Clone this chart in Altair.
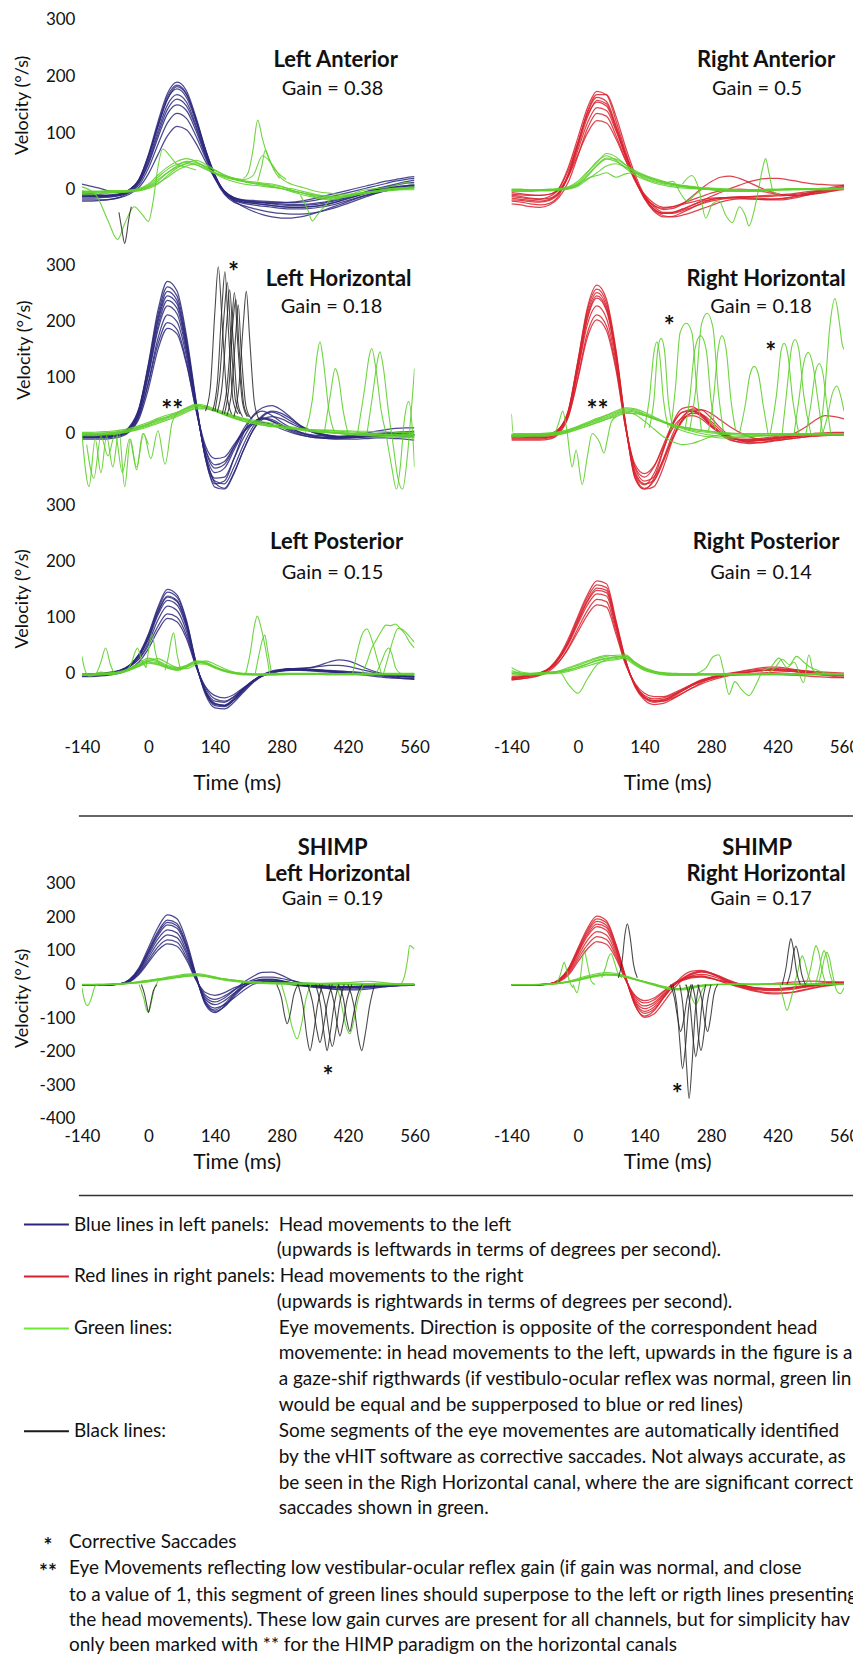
import altair as alt
import pandas as pd

# ---------------- time grid (ms) ----------------
T = [-140, -120, -100, -80, -60, -40, -20, 0, 20, 40, 60, 80, 100, 120, 140, 160, 180, 200,
     220, 240, 260, 280, 300, 320, 340, 360, 380, 400, 420, 440, 460, 480, 500, 520, 540, 560]
XTICKS = [-140, 0, 140, 280, 420, 560]

# ---------------- Left Anterior ----------------
LA_HEAD = [
    [-15,-15,-14,-13,-10,-2, 18,62,120,170,190,175, 128,72,26,-4,-17,-22, -24,-26,-28,-30,-31,-31, -30,-28,-25,-21,-16,-11, -6,-2,2,5,7,8],
    [-8,-9,-10,-10,-8,-1, 16,58,112,160,178,163, 120,68,24,-6,-19,-24, -27,-29,-31,-33,-34,-34, -33,-31,-28,-24,-19,-14, -9,-4,0,3,5,6],
    [10,6,2,-3,-5,0, 15,52,104,150,168,155, 114,64,20,-8,-22,-28, -33,-37,-40,-42,-43,-43, -42,-39,-35,-30,-24,-18, -12,-6,-1,3,6,8],
    [-20,-20,-19,-17,-13,-5, 12,48,98,142,160,148, 110,62,22,-4,-16,-20, -22,-23,-24,-25,-26,-26, -25,-23,-20,-16,-12,-8, -4,0,4,8,11,13],
    [-12,-12,-12,-11,-9,-3, 12,45,92,134,150,140, 104,60,22,-3,-14,-18, -19,-20,-21,-22,-23,-22, -20,-17,-13,-9,-5,-1, 3,7,11,15,18,20],
    [-5,-7,-9,-11,-10,-5, 8,38,80,118,135,126, 95,56,20,-5,-20,-30, -38,-44,-48,-50,-50,-48, -44,-39,-33,-27,-21,-15, -10,-6,-2,1,3,4],
    [-18,-18,-18,-17,-14,-8, 4,28,62,95,112,106, 82,50,20,-2,-14,-19, -21,-22,-23,-23,-22,-20, -17,-13,-9,-5,-1,3, 7,11,15,18,21,23],
    [-12,-12,-12,-11,-8,0, 18,60,115,165,185,170, 125,70,25,-5,-18,-22, -24,-26,-28,-30,-31,-31, -30,-28,-25,-20,-15,-10, -5,0,3,5,7,8],
    [-10,-10,-10,-9,-7,0, 17,58,112,160,182,168, 124,70,26,-3,-15,-19, -21,-23,-25,-27,-28,-28, -27,-25,-22,-18,-13,-8, -3,2,6,10,14,17],
]
LA_EYE = [
    [-5,-5,-4,-4,-3,-2, 0,5,15,30,42,50, 48,40,30,22,18,15, 12,10,8,5,2,-2, -6,-10,-12,-12,-10,-8, -6,-4,-2,0,1,2],
    [-8,-8,-7,-6,-5,-4, -2,2,10,25,38,46, 52,45,35,26,20,16, 14,12,10,6,0,-5, -9,-12,-14,-14,-12,-9, -6,-4,-2,-1,0,0],
    [-2,-3,-3,-2,-2,-1, 1,8,22,36,45,48, 44,36,28,20,14,10, 8,6,4,2,-1,-5, -8,-10,-11,-11,-10,-8, -5,-2,1,3,4,5],
    [-6,-6,-5,-5,-4,-3, -1,4,12,22,34,42, 46,42,34,26,20,15, 11,8,5,2,-2,-5, -10,-14,-16,-15,-12,-8, -4,-2,0,1,2,3],
    [-4,-4,-3,-3,-3,-2, 0,6,18,30,40,46, 44,38,30,24,20,18, 25,60,45,20,10,5, 0,-4,-6,-8,-8,-6, -4,-2,0,2,3,4],
    [-3,-3,-3,-2,-2,-1, 2,10,26,40,50,55, 50,40,30,24,18,14, 12,10,6,2,-3,-8, -12,-16,-18,-16,-10,-4, 0,2,4,8,12,10],
]
LA_EYE_SEG = [
    ([200,210,220,230,240,250,262,275,290], [20,30,70,123,90,62,40,28,18]),
    ([230,238,246,254,264,276], [15,40,70,55,35,20]),
    ([-140,-110,-85,-65,-50,-30,-12,0,10,20,30,45,60,80,100], [5,-10,-55,-88,-60,-30,-45,-56,-20,40,72,60,45,40,35]),
    ([320,335,345,355,370,385], [-10,-35,-55,-45,-30,-15]),
]
LA_BLACK_SEG = [
    ([-62,-56,-50,-46,-42,-36], [-40,-70,-95,-80,-55,-30]),
]

# ---------------- Right Anterior ----------------
RA_HEAD = [
    [-10,-12,-15,-16,-12,2, 40,92,145,174,168,122, 68,22,-14,-34,-42,-40, -34,-27,-21,-17,-15,-14, -13,-12,-11,-10,-9,-8, -6,-4,-2,0,2,3],
    [-20,-22,-25,-27,-24,-10, 28,82,136,163,156,114, 64,20,-16,-38,-48,-47, -40,-32,-24,-18,-15,-13, -12,-12,-12,-12,-11,-10, -8,-6,-4,-2,0,1],
    [-5,-7,-9,-10,-8,3, 35,84,132,155,148,108, 60,18,-12,-28,-33,-30, -24,-18,-12,-6,-2,0, 1,0,-2,-5,-8,-10, -10,-9,-7,-4,-1,2],
    [-15,-17,-19,-20,-17,-6, 24,70,118,145,140,104, 60,20,-14,-36,-46,-48, -45,-40,-34,-28,-22,-18, -16,-16,-17,-18,-18,-17, -14,-10,-6,-2,2,5],
    [-25,-27,-30,-31,-27,-14, 14,60,108,135,130,96, 54,16,-12,-28,-35,-33, -25,-12,2,14,22,24, 20,13,5,-2,-7,-10, -10,-9,-7,-5,-2,0],
    [-8,-9,-10,-10,-8,0, 24,62,100,122,118,90, 52,18,-8,-24,-31,-30, -26,-22,-18,-15,-14,-14, -15,-16,-17,-17,-16,-14, -11,-7,-3,1,5,8],
    [-12,-14,-16,-17,-15,-4, 28,80,138,168,168,130, 76,28,-10,-30,-40,-40, -35,-28,-20,-12,-5,2, 8,14,18,20,20,18, 15,12,10,9,8,8],
    [-18,-19,-21,-22,-19,-6, 26,76,128,158,152,110, 62,20,-14,-34,-42,-42, -37,-31,-25,-20,-17,-15, -14,-14,-15,-16,-16,-15, -12,-8,-4,0,3,6],
]
RA_EYE = [
    [0,0,-1,-1,0,1, 4,12,30,50,60,52, 38,26,18,12,8,5, 3,2,1,0,-1,-2, -2,-2,-1,0,0,1, 1,1,0,0,1,2],
    [-2,-2,-2,-1,-1,0, 2,8,24,42,54,50, 40,30,22,16,12,9, 6,4,2,0,-2,-3, -3,-3,-2,-1,0,0, 1,1,1,2,2,3],
    [1,1,0,0,1,2, 5,15,32,48,64,58, 44,30,20,14,10,7, 5,3,2,1,0,0, -1,-1,-1,0,0,0, 1,1,1,1,2,2],
    [-3,-3,-3,-2,-2,-1, 1,6,18,30,42,46, 40,32,24,18,13,9, 6,4,2,1,0,-1, -2,-3,-3,-2,-1,0, 0,1,1,1,2,2],
    [0,0,0,0,0,1, 3,9,20,25,30,22, 28,30,25,18,14,10, 7,5,3,2,1,0, 0,0,0,0,0,0, 0,0,0,0,1,1],
    [-1,-1,-1,0,0,1, 3,10,26,44,56,54, 44,34,26,20,15,11, 8,6,4,3,2,1, 0,0,0,1,1,2, 2,2,2,3,3,3],
]
RA_EYE_SEG = [
    ([220,240,255,269,283,297,311,325,340,352,360,370,380,388,395,402,412,425],
     [10,25,0,-50,-25,-20,-45,-58,-30,-45,-64,-40,0,35,55,30,-5,-8]),
    ([180,200,215,230,245,260], [10,15,-5,-20,-10,0]),
]

# ---------------- Left Horizontal ----------------
LH_HEAD = [
    [-6,-6,-6,-5,-2,10, 45,125,220,272,255,175, 60,-45,-90,-85,-45,0, 30,40,32,20,10,2, -3,-6,-7,-7,-6,-4, -2,0,1,1,1,1],
    [-2,-2,-2,-1,1,12, 44,118,205,254,238,162, 55,-40,-80,-78,-45,-8, 18,28,25,16,8,2, -2,-4,-5,-5,-4,-3, -2,-1,0,0,-1,-2],
    [-8,-8,-8,-7,-4,6, 36,106,192,238,224,152, 50,-40,-88,-98,-70,-30, 5,25,30,26,18,10, 4,0,-3,-5,-6,-6, -5,-4,-3,-2,-2,-3],
    [-4,-4,-4,-3,-1,8, 38,104,185,228,214,146, 48,-36,-70,-62,-30,2, 20,28,22,12,4,-2, -6,-8,-8,-7,-5,-2, 1,4,7,9,10,10],
    [-10,-10,-10,-9,-6,3, 30,92,170,212,200,138, 46,-30,-62,-55,-25,8, 32,46,50,42,28,14, 4,-2,-6,-8,-8,-7, -6,-5,-4,-4,-5,-6],
    [-3,-3,-3,-3,-1,6, 32,90,160,198,186,128, 42,-28,-56,-50,-24,2, 16,20,16,8,2,-3, -6,-8,-9,-9,-8,-6, -4,-2,0,2,3,4],
    [-6,-6,-6,-5,-3,4, 26,80,150,188,178,124, 44,-22,-45,-42,-20,4, 20,26,22,14,6,0, -4,-7,-9,-10,-10,-10, -9,-8,-8,-9,-10,-12],
    [-5,-5,-5,-4,-2,9, 42,122,212,262,246,168, 56,-44,-96,-100,-72,-30, 6,30,38,32,22,12, 4,-1,-4,-6,-6,-5, -4,-3,-2,-2,-2,-2],
    [-7,-7,-7,-6,-3,7, 38,112,200,246,232,158, 52,-42,-85,-90,-60,-20, 12,32,40,36,26,14, 6,0,-4,-6,-7,-7, -6,-5,-4,-3,-3,-3],
]
LH_EYE = [
    [-2,-2,-1,0,2,5, 10,16,22,28,34,42, 48,46,40,34,28,24, 20,17,14,12,10,8, 6,4,3,2,1,0, 0,-1,-2,-2,-3,-3],
    [0,0,1,2,4,7, 12,18,25,30,36,44, 50,48,42,36,30,25, 21,18,15,12,9,7, 5,3,2,1,0,-1, -2,-2,-3,-3,-4,-4],
    [-4,-4,-3,-2,0,3, 7,12,18,24,30,38, 44,44,40,34,28,22, 18,15,12,10,8,6, 4,2,1,0,-1,-2, -3,-4,-4,-5,-5,-6],
    [-1,-1,0,1,3,6, 11,17,24,30,37,46, 52,50,44,38,32,27, 22,18,15,12,10,8, 7,6,5,4,3,2, 1,0,-1,-1,-2,-2],
    [-3,-3,-2,-1,1,4, 8,14,20,26,32,40, 46,45,41,36,31,27, 24,21,18,15,12,9, 6,4,2,0,-2,-3, -4,-5,-6,-7,-7,-8],
    [2,2,3,4,6,9, 14,20,27,33,38,45, 50,47,40,33,27,22, 18,15,13,11,9,8, 7,6,6,5,5,4, 4,3,3,2,2,2],
]
LH_EYE_SEG = [
    ([-140,-125,-112,-100,-88,-75,-62,-50,-38,-25,-12,0], [0,-95,-10,-70,-5,-60,5,-95,-10,-65,0,-20]),
    ([-130,-115,-100,-85,-70,-55,-40,-25,-10,5,20,35,50,65], [-20,-80,-5,-40,0,-70,-10,-60,0,-45,5,-55,20,40]),
    ([330,345,355,361,368,380,392], [0,60,140,164,130,40,0]),
    ([370,383,393,400,410,420], [0,70,116,100,40,0]),
    ([440,455,465,470,478,490,500], [0,80,140,152,120,40,0]),
    ([460,472,482,487,494,505,515,525,535,545,555,560], [0,70,130,146,120,40,-20,-80,-100,-40,60,116]),
    ([500,512,522,530,538,548,556,560], [0,-60,-100,-60,20,57,0,-60]),
]
LH_BLACK_SEG = [
    ([120,130,140,147,155,165,175], [40,80,220,298,200,70,35]),
    ([135,145,155,161,168,178,188], [40,90,230,289,190,60,35]),
    ([140,150,160,166,173,183,193], [40,100,220,270,180,60,35]),
    ([145,155,165,171,178,188,198], [38,85,200,257,170,55,30]),
    ([155,165,175,181,188,198,208], [35,80,190,252,160,55,30]),
    ([160,170,178,184,191,201,211], [35,90,200,240,150,50,30]),
    ([165,175,184,189,195,205,215], [32,75,180,230,150,50,28]),
    ([180,190,200,206,213,223,233], [30,80,200,254,170,55,25]),
]

# ---------------- Right Horizontal ----------------
RH_HEAD = [
    [-8,-8,-8,-8,-6,5, 40,130,225,265,240,150, 20,-80,-100,-80,-30,20, 45,48,35,15,-2,-12, -15,-14,-12,-10,-8,-6, -5,-4,-3,-2,-2,-2],
    [-5,-5,-5,-5,-3,7, 40,125,214,252,228,142, 18,-72,-92,-72,-28,16, 38,42,32,14,0,-8, -11,-11,-10,-9,-7,-6, -5,-4,-3,-3,-2,-2],
    [-12,-12,-12,-12,-10,0, 32,115,205,242,220,136, 14,-74,-98,-85,-45,0, 30,40,34,18,2,-10, -16,-18,-17,-15,-13,-10, -8,-6,-5,-4,-3,-3],
    [-3,-3,-3,-3,-1,8, 38,112,195,228,206,128, 16,-60,-78,-60,-20,18, 38,40,30,14,2,-6, -10,-10,-9,-7,-5,-3, -2,-1,0,0,0,0],
    [-10,-10,-10,-10,-8,2, 30,100,180,212,192,120, 12,-62,-85,-78,-46,-8, 22,38,42,36,24,12, 2,-6,-10,-12,-12,-10, -8,-6,-4,-3,-2,-2],
    [-6,-6,-6,-6,-4,5, 32,98,172,203,184,114, 12,-55,-72,-58,-24,10, 28,32,26,12,0,-8, -12,-13,-12,-10,-8,-5, 2,12,24,32,30,26],
    [-8,-8,-8,-8,-6,6, 42,130,220,258,234,146, 18,-78,-100,-95,-60,-10, 26,44,42,28,10,-4, -12,-16,-16,-14,-11,-8, -5,-2,0,1,2,2],
    [-4,-4,-4,-4,-2,8, 38,120,208,246,224,140, 16,-68,-90,-84,-50,-6, 24,36,34,22,6,-6, -12,-14,-13,-11,-9,-7, -5,-3,-2,-1,0,0],
]
RH_EYE = [
    [-4,-4,-3,-3,-2,0, 4,10,16,22,28,34, 40,38,32,26,20,15, 11,8,5,3,1,0, -1,-2,-2,-3,-3,-3, -3,-2,-2,-2,-2,-2],
    [-2,-2,-2,-1,0,2, 6,12,18,24,30,36, 42,40,34,27,21,16, 12,9,6,4,2,1, 0,-1,-1,-1,-1,-1, 0,0,0,0,0,0],
    [-6,-6,-5,-5,-4,-2, 2,7,13,19,25,30, 36,36,32,26,20,14, 10,6,3,1,-1,-2, -3,-4,-4,-4,-4,-3, -3,-3,-3,-3,-3,-3],
    [-3,-3,-2,-2,-1,1, 5,11,18,25,32,38, 44,42,35,28,20,12, 5,0,-4,-6,-8,-8, -7,-6,-5,-4,-3,-2, -2,-1,-1,0,0,0],
    [-5,-5,-4,-4,-3,-1, 3,8,14,20,26,32, 38,34,22,8,-6,-15, -20,-18,-12,-6,-2,0, 0,0,0,0,0,0, 0,0,0,0,0,0],
    [-1,-1,-1,0,1,3, 7,13,20,27,33,40, 46,44,38,30,22,15, 9,4,0,-3,-5,-6, -6,-5,-4,-3,-2,-2, -1,-1,0,0,0,0],
]
RH_EYE_SEG = [
    ([-140,-136,-120,-50,-40,-32,-24,-12,-4,9,20,30,45,55,62,70,80], [35,0,0,0,20,40,10,-60,-30,-91,-40,0,-15,-35,-10,20,30]),
    ([140,150,160,166,172,180,190], [10,60,145,164,140,60,10]),
    ([150,160,168,175,182,190,200], [10,60,150,170,150,60,10]),
    ([195,205,215,228,240,250,260], [5,80,180,197,180,80,5]),
    ([225,235,246,258,270,280,290], [5,60,150,175,150,60,5]),
    ([235,248,260,272,284,296,306], [5,80,195,215,190,70,5]),
    ([275,285,295,303,312,322,332], [5,60,150,175,150,60,5]),
    ([340,352,362,371,380,390,400], [0,50,105,120,105,50,0]),
    ([405,418,428,434,442,452,465], [0,70,150,161,140,60,0]),
    ([430,440,450,457,465,475,490], [0,80,155,168,150,70,0]),
    ([455,465,475,485,495,505,515], [0,60,125,145,120,60,0]),
    ([480,490,500,508,516,524,532], [0,50,110,125,105,50,0]),
    ([510,520,530,541,550,556,560], [0,80,190,241,200,160,150]),
    ([515,525,535,545,555,560], [0,30,70,85,60,40]),
]

# ---------------- Left Posterior ----------------
LP_HEAD = [
    [-3,-3,-2,0,4,14, 34,70,118,150,140,95, 20,-35,-58,-60,-48,-30, -14,-3,4,7,8,8, 7,6,5,4,3,2, 0,-2,-4,-5,-6,-7],
    [-5,-5,-4,-2,2,12, 31,64,110,138,130,88, 18,-34,-55,-57,-45,-28, -13,-3,3,6,7,7, 6,5,4,3,2,0, -2,-4,-6,-8,-9,-10],
    [-2,-2,-1,1,5,14, 30,60,104,130,122,82, 16,-30,-50,-52,-42,-27, -14,-5,0,4,6,8, 10,12,14,14,12,8, 4,0,-3,-5,-6,-7],
    [-4,-4,-3,-1,3,11, 26,54,95,120,112,75, 14,-32,-54,-58,-48,-32, -16,-4,2,4,5,5, 4,3,2,1,0,-1, -2,-3,-4,-5,-5,-5],
    [-1,-1,0,2,5,12, 25,50,84,106,100,68, 14,-26,-46,-50,-42,-28, -14,-4,2,6,8,9, 10,14,20,24,22,16, 8,2,-2,-4,-5,-6],
    [-6,-6,-5,-3,0,7, 20,44,76,98,92,62, 12,-24,-40,-44,-38,-26, -14,-5,0,4,6,6, 5,4,3,2,1,0, -1,-3,-5,-7,-9,-10],
    [-3,-3,-2,0,4,14, 33,68,114,145,136,92, 18,-38,-62,-64,-52,-34, -17,-5,2,6,8,8, 7,6,4,2,0,-2, -4,-6,-8,-9,-10,-11],
    [-2,-2,-1,1,4,13, 31,64,108,136,128,86, 17,-33,-56,-58,-47,-30, -15,-4,2,5,6,6, 5,4,3,2,1,0, -1,-2,-3,-4,-5,-6],
]
LP_EYE = [
    [-3,-3,-2,-1,2,8, 16,24,20,12,8,12, 20,18,10,4,0,-2, -2,-2,-1,-1,-1,-1, -1,-2,-2,-2,-2,-2, -2,-2,-2,-2,-2,-2],
    [-1,-1,0,1,3,9, 18,27,22,14,10,14, 22,20,12,5,1,0, -1,-1,0,0,0,0, 0,0,-1,-1,-1,-1, -1,-1,-1,-1,-1,-1],
    [-4,-4,-3,-2,0,5, 12,18,15,9,5,10, 17,16,9,3,-1,-3, -3,-3,-2,-2,-2,-2, -2,-2,-3,-3,-3,-3, -3,-3,-3,-3,-3,-3],
    [-2,-2,-1,0,2,6, 14,22,26,18,10,8, 16,22,16,8,2,-1, -2,-3,-3,-2,-2,-2, -2,-1,-1,-1,0,0, 0,0,0,0,0,0],
    [0,-5,2,-3,1,7, 15,20,16,10,6,11, 19,17,10,4,0,-2, -3,-3,-3,-3,-2,-2, -2,-2,-2,-2,-2,-2, -2,-2,-2,-2,-2,-2],
    [-2,-2,-2,-1,1,6, 13,21,18,11,7,13, 21,19,11,5,1,-1, -2,-2,-2,-1,-1,-1, -1,-1,-1,-1,-1,-1, -1,-1,-1,-1,-1,-1],
]
LP_EYE_SEG = [
    ([-140,-135,-125,-110,-100,-90,-80,-70], [30,10,-5,0,20,45,15,-3]),
    ([-45,-35,-28,-23,-15,-5], [5,20,38,45,25,10]),
    ([-5,0,5,8,14,22], [10,40,62,69,40,15]),
    ([35,42,48,53,60,68], [5,30,60,72,35,5]),
    ([205,215,222,229,236,245,255], [0,40,80,102,85,50,0]),
    ([225,232,240,245,250,258], [0,30,60,68,45,5]),
    ([430,440,450,460,470,480,490], [0,40,70,79,60,30,0]),
    ([450,460,470,480,490,500,510,520,530,540,550,560], [0,20,45,60,75,86,85,88,80,70,55,45]),
    ([480,490,500,505,512,520,530], [0,20,40,45,35,10,0]),
    ([495,505,515,525,535,545,555,560], [0,30,60,80,78,70,60,55]),
]

# ---------------- Right Posterior ----------------
RP_HEAD = [
    [-10,-8,-5,0,10,30, 62,102,140,165,160,95, 25,-22,-45,-52,-50,-42, -32,-22,-14,-8,-4,-2, 0,2,4,5,5,4, 2,0,-2,-3,-4,-5],
    [-12,-10,-7,-2,7,26, 56,94,130,152,148,88, 22,-22,-44,-50,-48,-40, -30,-20,-12,-7,-3,0, 3,6,9,11,11,9, 6,3,0,-2,-3,-4],
    [-8,-6,-4,0,8,25, 52,88,122,142,138,82, 20,-20,-40,-46,-44,-38, -30,-22,-15,-10,-6,-4, -3,-2,-2,-2,-2,-3, -4,-5,-6,-7,-8,-8],
    [-12,-10,-8,-4,4,20, 46,80,112,132,128,76, 18,-20,-42,-50,-50,-44, -36,-27,-19,-13,-8,-4, -1,2,4,6,7,7, 6,4,2,0,-2,-3],
    [-6,-5,-3,0,7,21, 44,74,104,122,118,70, 16,-18,-36,-42,-42,-36, -28,-20,-13,-8,-5,-3, -2,-1,0,1,2,3, 4,4,3,2,1,0],
    [-10,-8,-5,0,9,28, 58,98,135,158,153,92, 24,-24,-48,-56,-54,-46, -36,-26,-17,-10,-5,-1, 2,5,7,8,8,7, 5,2,-1,-4,-6,-8],
    [-9,-7,-4,1,9,27, 55,92,128,148,144,86, 22,-21,-43,-49,-47,-40, -31,-22,-14,-8,-4,-1, 1,3,5,6,6,5, 3,1,-1,-3,-4,-5],
]
RP_EYE = [
    [5,0,-2,-1,0,2, 6,10,16,22,26,28, 30,18,8,3,0,-1, -2,-2,-2,-2,-2,-2, -2,-2,-2,-2,-2,-2, -2,-2,-2,-2,-2,-2],
    [10,2,0,1,2,4, 8,14,20,26,30,32, 33,20,10,4,1,0, -1,-1,-1,-1,-1,-1, -1,-1,-1,-1,-1,-1, -1,-1,-1,-1,-1,-1],
    [0,-2,-3,-2,-1,0, 3,8,13,18,22,24, 27,16,6,1,-2,-3, -3,-3,-3,-3,-3,-3, -3,-3,-3,-3,-3,-3, -3,-3,-3,-3,-3,-3],
    [-3,-3,-3,-2,0,4, 10,16,22,28,32,30, 26,14,5,0,-3,-4, -4,-4,-3,-3,-3,-3, -3,-3,-2,-2,-2,-2, -2,-2,-2,-2,-2,-2],
    [2,0,-1,0,1,3, -20,-36,-10,15,24,26, 28,18,8,3,0,-1, -1,-1,-1,-1,-1,-1, -1,-1,-1,-1,-1,-1, -1,-1,-1,-1,-1,-1],
    [0,0,-1,-1,0,2, 5,11,17,23,27,29, 31,19,8,2,-1,-2, -2,-2,-2,-2,-2,-2, -2,-1,-1,-1,-1,-1, -1,-1,-1,-1,-1,-1],
]
RP_EYE_SEG = [
    ([250,270,285,297,305,318,330,345,360,375,390,405,423,440,455,475,486,495,510,530,560],
     [0,10,30,33,10,-38,-15,-30,-40,-20,5,10,27,10,20,-17,33,5,0,0,-2]),
    ([400,415,430,445,460,475,490,505,520], [0,10,25,15,30,20,10,5,0]),
]

# ---------------- SHIMP Left Horizontal ----------------
SL_HEAD = [
    [0,0,0,0,2,15, 50,110,170,208,196,130, 30,-60,-84,-64,-32,-6, 6,12,10,5,0,-4, -6,-8,-9,-9,-8,-6, -4,-2,-1,0,0,0],
    [0,0,0,0,2,14, 46,102,158,192,182,120, 26,-54,-76,-58,-28,0, 14,22,22,18,12,6, 2,-2,-4,-6,-7,-7, -6,-4,-2,-1,0,0],
    [-1,-1,-1,-1,1,12, 42,94,146,178,168,110, 22,-50,-70,-60,-40,-18, 0,8,10,8,4,0, -4,-8,-12,-15,-16,-16, -14,-10,-6,-3,-1,0],
    [0,0,0,0,2,12, 40,88,136,163,154,100, 20,-44,-60,-48,-26,-6, 8,14,14,10,4,-2, -6,-10,-12,-13,-13,-12, -10,-8,-6,-4,-2,-1],
    [-1,-1,-1,-1,1,10, 36,80,124,148,140,92, 18,-38,-52,-40,-18,6, 24,36,37,28,14,4, -2,-5,-7,-8,-8,-7, -6,-5,-4,-3,-2,-1],
    [0,0,0,0,2,10, 33,72,112,133,126,82, 16,-32,-44,-34,-16,0, 10,14,14,10,5,0, -3,-6,-8,-9,-9,-8, -7,-6,-5,-4,-3,-2],
    [0,0,0,0,1,8, 30,66,102,121,114,74, 14,-24,-32,-24,-10,0, 6,8,8,5,2,-1, -3,-5,-6,-6,-6,-5, -4,-3,-2,-1,-1,0],
    [0,0,0,0,2,13, 44,98,152,185,175,115, 24,-56,-80,-66,-36,-8, 8,16,16,12,6,1, -3,-6,-8,-9,-9,-8, -6,-4,-3,-2,-1,0],
]
SL_EYE = [
    [0,0,0,1,2,4, 8,12,16,20,24,28, 30,26,20,15,11,8, 6,5,4,3,2,2, 1,1,1,0,0,0, 0,0,0,0,0,0],
    [1,1,1,2,3,5, 9,13,17,22,27,31, 33,29,22,16,12,9, 7,6,5,4,4,3, 3,2,2,2,1,1, 1,1,1,1,1,1],
    [-1,-1,-1,0,1,3, 6,10,14,18,22,25, 27,24,18,13,9,6, 4,3,2,1,1,0, 0,0,-1,-1,-1,-1, -1,-1,-1,-1,-1,-1],
    [0,0,0,0,1,3, 5,8,12,16,20,24, 26,24,20,16,13,10, 8,7,6,5,5,5, 5,4,4,4,4,4, 3,3,2,2,2,2],
    [0,0,1,1,2,4, 7,11,15,19,23,27, 29,27,22,17,13,10, 8,6,5,4,3,3, 3,3,4,5,6,8, 10,8,5,3,2,2],
]
SL_EYE_SEG = [
    ([-140,-135,-128,-120,-112,-104], [-10,-45,-63,-40,-5,0]),
    ([-20,-10,-4,0,5,12,20], [0,-40,-75,-83,-60,-15,10]),
    ([280,292,303,313,322,332,342], [0,-60,-130,-162,-120,-40,0]),
    ([395,405,415,424,432,442,452], [0,-50,-120,-147,-110,-40,0]),
    ([530,538,545,550,555,560], [0,20,70,116,112,105]),
]
SL_BLACK_SEG = [
    ([270,280,287,292,298,306,315], [0,-40,-95,-117,-90,-30,0]),
    ([315,325,334,340,347,356,366], [0,-60,-160,-197,-150,-60,0]),
    ([335,345,355,361,368,377,387], [0,-50,-140,-173,-130,-50,0]),
    ([352,362,371,376,382,391,400], [0,-60,-160,-197,-150,-60,0]),
    ([360,372,381,387,394,403,412], [0,-60,-150,-185,-140,-50,0]),
    ([380,390,398,403,409,418,428], [0,-50,-125,-153,-120,-45,0]),
    ([400,410,418,424,430,440,450], [0,-40,-110,-140,-100,-30,0]),
    ([420,432,442,449,456,466,476], [0,-60,-160,-197,-150,-60,0]),
    ([-15,-8,-3,0,4,10,18], [0,-30,-65,-83,-60,-20,0]),
]

# ---------------- SHIMP Right Horizontal ----------------
SR_HEAD = [
    [0,0,0,0,2,14, 48,108,168,204,190,120, 25,-62,-94,-78,-40,-4, 25,40,42,34,20,6, -4,-12,-16,-18,-18,-16, -12,-8,-4,0,2,3],
    [0,0,0,0,2,13, 44,100,156,188,176,112, 22,-56,-86,-74,-40,-6, 18,32,38,32,20,8, -2,-10,-14,-16,-15,-13, -10,-6,-2,1,3,4],
    [-1,-1,-1,-1,1,12, 40,92,144,173,162,102, 20,-48,-72,-60,-32,-4, 14,26,30,26,16,6, -2,-8,-12,-14,-14,-12, -9,-5,-1,2,4,5],
    [0,0,0,0,2,11, 36,84,132,158,148,94, 18,-42,-64,-54,-28,-2, 14,22,24,18,10,2, -6,-14,-20,-24,-25,-24, -20,-14,-8,-3,1,3],
    [-1,-1,-1,-1,1,10, 32,76,118,143,134,86, 16,-36,-55,-46,-22,2, 16,24,26,20,10,0, -8,-16,-22,-27,-28,-26, -22,-16,-10,-5,-1,2],
    [0,0,0,0,1,8, 28,68,106,128,120,78, 14,-32,-48,-40,-20,0, 12,20,22,18,12,6, 2,0,0,2,4,6, 8,10,10,9,7,5],
    [0,0,0,0,2,14, 46,104,162,196,184,118, 24,-60,-98,-88,-54,-16, 14,30,38,34,24,12, 2,-6,-10,-12,-12,-10, -6,-2,2,6,8,8],
    [0,0,0,0,2,12, 42,96,150,180,170,108, 20,-52,-80,-68,-36,-4, 18,34,40,34,22,10, 0,-7,-11,-13,-13,-11, -8,-4,0,3,5,6],
]
SR_EYE = [
    [0,0,0,0,1,3, 8,14,22,28,32,30, 24,16,8,0,-8,-14, -12,-6,-2,0,1,1, 1,1,1,1,1,1, 1,1,1,1,1,1],
    [0,0,0,1,2,5, 10,18,26,32,36,33, 26,17,8,-1,-10,-16, -14,-8,-3,0,1,2, 2,2,2,2,2,2, 2,2,2,2,2,2],
    [-1,-1,-1,0,1,3, 7,12,19,24,28,27, 22,15,8,1,-6,-12, -11,-6,-2,0,0,0, 0,0,0,0,0,0, 0,0,0,0,0,0],
    [0,0,0,0,1,4, 9,15,22,27,30,28, 22,14,6,-2,-9,-15, -16,-12,-6,-2,0,1, 1,1,1,1,1,1, 1,1,1,1,1,1],
    [0,0,0,0,1,3, 8,13,20,26,30,29, 24,16,9,2,-5,-11, -13,-9,-4,-1,0,0, 0,0,0,0,0,0, 0,0,0,0,0,0],
]
SR_EYE_SEG = [
    ([-45,-37,-31,-29,-25,-18,-10], [0,30,60,66,50,10,-10]),
    ([-10,-2,5,13,20,28,36], [0,-24,20,101,60,10,0]),
    ([50,58,64,70,76,84,92], [20,50,80,92,70,35,20]),
    ([225,235,243,248,254,262,272], [0,-20,-50,-60,-45,-15,0]),
    ([425,432,440,447,455,462], [0,-40,-77,-50,-10,0]),
    ([455,463,469,472,477,484,492], [0,40,76,86,70,30,0]),
    ([480,490,497,501,506,514,522], [0,50,100,116,100,40,0]),
    ([500,508,514,518,523,530,538], [0,45,88,101,85,35,0]),
    ([506,513,519,524,529,536,545,552,560], [0,40,80,96,80,30,-20,-27,-10]),
]
SR_BLACK_SEG = [
    ([85,93,99,104,110,117,125], [20,70,150,181,140,60,20]),
    ([195,203,210,216,222,230,238], [0,-40,-100,-140,-110,-40,0]),
    ([200,208,215,220,226,233,241], [0,-60,-180,-251,-190,-70,0]),
    ([214,222,229,234,240,247,255], [0,-80,-250,-340,-240,-80,0]),
    ([228,236,243,248,254,261,269], [0,-60,-170,-215,-160,-60,0]),
    ([240,248,254,259,265,272,280], [0,-55,-160,-197,-150,-55,0]),
    ([252,260,267,273,279,286,294], [0,-40,-110,-140,-100,-30,0]),
    ([430,438,444,448,453,460,468], [0,50,110,137,110,40,0]),
    ([440,448,454,459,464,471,479], [0,40,95,115,90,30,0]),
]

# asterisk annotations (time, velocity, text)
LH_STARS = [(179, 302, "*"), (50, 54, "**")]
RH_STARS = [(192, 204, "*"), (406, 158, "*"), (41, 54, "**")]
SL_STARS = [(378, -251, "*")]
SR_STARS = [(209, -307, "*")]

# ---------------- styling ----------------
BLUE = "#2B287C"
RED = "#D8222E"
GREEN = "#5FCF2C"
BLACK = "#2A2A2A"
FONT = "Lato"
PW = 333
ZW = "\u200b"


def grid_df(traces, tag):
    rows = []
    for i, vals in enumerate(traces):
        for t, v in zip(T, vals):
            rows.append({"t": t, "v": v, "id": f"{tag}{i}"})
    return pd.DataFrame(rows)


def seg_df(segs, tag):
    rows = []
    for i, (ts, vs) in enumerate(segs):
        for t, v in zip(ts, vs):
            rows.append({"t": t, "v": v, "id": f"{tag}{i}"})
    return pd.DataFrame(rows)


ONE = alt.Data(values=[{}])


def text_layer(txt, x, y, size, bold=False, align="center", limit=None, dy=0):
    kw = dict(text=txt, font=FONT, fontSize=size, fontWeight="bold" if bold else "normal",
              align=align, baseline="middle", color="#111111", dy=dy)
    if limit is not None:
        kw.update(limit=limit, ellipsis=ZW)
    return alt.Chart(ONE).mark_text(**kw).encode(x=alt.value(x), y=alt.value(y))


def rule_layer(x1, x2, y, color, width):
    return alt.Chart(ONE).mark_rule(color=color, strokeWidth=width).encode(
        x=alt.value(x1), x2=alt.value(x2), y=alt.value(y))


def panel(head, head_color, eye, eye_seg, black_seg, stars, ydomain, height, side,
          show_x, xtitle_y, ytitle, yvalues, titles, extra=None):
    xscale = alt.Scale(domain=[-140, 560], nice=False, zero=False)
    yscale = alt.Scale(domain=ydomain, nice=False, zero=False)
    if show_x:
        xaxis = alt.Axis(values=XTICKS, title="Time (ms)", labelFontSize=17, labelPadding=10,
                         labelFlush=False, labelExpr="'' + datum.value",
                         titleFontSize=21, titleX=155 if side == "L" else 156, titleY=xtitle_y,
                         titleAlign="center", titleBaseline="middle")
    else:
        xaxis = None
    if side == "L":
        yaxis = alt.Axis(values=yvalues, title="Velocity (°/s)", labelFontSize=17, labelPadding=7,
                         labelFlush=False, labelExpr="'' + datum.value",
                         titleFontSize=18, titleAngle=270, titleX=ytitle[0], titleY=ytitle[1],
                         titleAlign="center", titleBaseline="middle")
    else:
        yaxis = None
    X = alt.X("t:Q", scale=xscale, axis=xaxis)
    Y = alt.Y("v:Q", scale=yscale, axis=yaxis)
    line = dict(interpolate="monotone", clip=True)
    layers = [
        alt.Chart(grid_df(head, "h")).mark_line(color=head_color, opacity=0.85, strokeWidth=1.25, **line)
        .encode(x=X, y=Y, detail="id:N"),
        alt.Chart(grid_df(eye, "e")).mark_line(color=GREEN, opacity=0.9, strokeWidth=1.1, **line)
        .encode(x=X, y=Y, detail="id:N"),
    ]
    if eye_seg:
        layers.append(alt.Chart(seg_df(eye_seg, "s")).mark_line(color=GREEN, opacity=0.9, strokeWidth=1.1, **line)
                      .encode(x=X, y=Y, detail="id:N"))
    if black_seg:
        layers.append(alt.Chart(seg_df(black_seg, "k")).mark_line(color=BLACK, opacity=0.85, strokeWidth=1.1, **line)
                      .encode(x=X, y=Y, detail="id:N"))
    if stars:
        sdf = pd.DataFrame([{"t": a, "v": b, "s": c} for a, b, c in stars])
        layers.append(alt.Chart(sdf).mark_text(font=FONT, fontSize=26, fontWeight="bold",
                                               baseline="middle", align="center", dy=8, color="#111111")
                      .encode(x=X, y=Y, text="s:N"))
    for (txt, x, y, size, bold) in titles:
        layers.append(text_layer(txt, x, y, size, bold))
    if extra is not None:
        layers.extend(extra)
    return alt.layer(*layers).properties(width=PW, height=height)


# ---------------- legend / notes block (drawn below the SHIMP panels) ----------------
LEGEND_KEYS = [("Blue lines in left panels:", BLUE, 90), ("Red lines in right panels:", RED, 142),
               ("Green lines:", "#6CEB34", 194), ("Black lines:", "#1A1A1A", 297)]
DESC_LINES = [
    ("Head movements to the left", 197, 90),
    ("(upwards is leftwards in terms of degrees per second).", 195, 116),
    ("Head movements to the right", 198, 142),
    ("(upwards is rightwards in terms of degrees per second).", 195, 168),
    ("Eye movements. Direction is opposite of the correspondent head", 197, 194),
    ("movemente: in head movements to the left, upwards in the figure is a", 197, 219),
    ("a gaze-shif rigthwards (if vestibulo-ocular reflex was normal, green lines", 197, 245),
    ("would be equal and be supperposed to blue or red lines)", 197, 271),
    ("Some segments of the eye movementes are automatically identified", 197, 297),
    ("by the vHIT software as corrective saccades. Not always accurate, as can", 197, 323),
    ("be seen in the Righ Horizontal canal, where the are significant corrective", 197, 349),
    ("saccades shown in green.", 197, 374),
    ("Corrective Saccades", -13, 408),
    ("Eye Movements reflecting low vestibular-ocular reflex gain (if gain was normal, and close", -13, 434),
    ("to a value of 1, this segment of green lines should superpose to the left or rigth lines presenting", -13, 461),
    ("the head movements). These low gain curves are present for all channels, but for simplicity have", -13, 486),
    ("only been marked with **  for the HIMP paradigm on the horizontal canals", -13, 511),
]
NOTE_MARKS = [("*", -34, 408), ("**", -34, 434)]
LEG_DY = 390  # offset of the notes block below the top of the SHIMP panels

notes = [rule_layer(-3, 779, 71, "#333333", 1.5),
         rule_layer(-3, 779, 61 + LEG_DY, "#333333", 1.5)]
for label, col, y in LEGEND_KEYS:
    notes.append(rule_layer(-58, -13, y + LEG_DY, col, 2))
    notes.append(text_layer(label, -8, y + LEG_DY, 19, align="left"))
for txt, x, y in DESC_LINES:
    notes.append(text_layer(txt, x, y + LEG_DY, 19, align="left", limit=779 - x))
for txt, x, y in NOTE_MARKS:
    notes.append(text_layer(txt, x, y + LEG_DY, 21, bold=True, dy=5))

YV = [0, 100, 200, 300]
YV4 = [-400, -300, -200, -100, 0, 100, 200, 300]

p1 = panel(LA_HEAD, BLUE, LA_EYE, LA_EYE_SEG, LA_BLACK_SEG, None, [-106, 300], 230, "L", False, 0,
           (-59, 85), YV, [("Left Anterior", 254, 40, 22, True), ("Gain = 0.38", 251, 69, 20, False)])
p2 = panel(RA_HEAD, RED, RA_EYE, RA_EYE_SEG, None, None, [-106, 300], 230, "R", False, 0,
           None, YV, [("Right Anterior", 255, 40, 22, True), ("Gain = 0.5", 246, 69, 20, False)])
p3 = panel(LH_HEAD, BLUE, LH_EYE, LH_EYE_SEG, LH_BLACK_SEG, LH_STARS, [-100, 300], 224, "L", False, 0,
           (-57, 84), YV, [("Left Horizontal", 257, 13, 22, True), ("Gain = 0.18", 250, 41, 20, False)])
p4 = panel(RH_HEAD, RED, RH_EYE, RH_EYE_SEG, None, RH_STARS, [-100, 300], 224, "R", False, 0,
           None, YV, [("Right Horizontal", 255, 13, 22, True), ("Gain = 0.18", 250, 41, 20, False)])
p5 = panel(LP_HEAD, BLUE, LP_EYE, LP_EYE_SEG, None, None, [-100, 300], 224, "L", True, 54,
           (-59, 93), YV, [("Left Posterior", 255, 37, 22, True), ("Gain = 0.15", 251, 68, 20, False)])
p6 = panel(RP_HEAD, RED, RP_EYE, RP_EYE_SEG, None, None, [-100, 300], 224, "R", True, 54,
           None, YV, [("Right Posterior", 255, 37, 22, True), ("Gain = 0.14", 250, 68, 20, False)])
p7 = panel(SL_HEAD, BLUE, SL_EYE, SL_EYE_SEG, SL_BLACK_SEG, SL_STARS, [-400, 714], 374, "L", True, 44,
           (-59, 253), YV4, [("SHIMP", 251, 103, 22, True), ("Left Horizontal", 256, 129, 22, True),
                             ("Gain = 0.19", 251, 154, 20, False)], extra=notes)
p8 = panel(SR_HEAD, RED, SR_EYE, SR_EYE_SEG, SR_BLACK_SEG, SR_STARS, [-400, 714], 374, "R", True, 44,
           None, YV4, [("SHIMP", 246, 103, 22, True), ("Right Horizontal", 255, 129, 22, True),
                       ("Gain = 0.17", 250, 154, 20, False)])

chart = alt.concat(p1, p2, p3, p4, p5, p6, p7, p8, columns=2,
                   spacing={"row": 16, "column": 97}, align="each", bounds="flush").properties(
    padding={"left": 6, "top": 2, "right": -8, "bottom": 0}
).configure_view(stroke=None).configure_axis(
    domain=False, ticks=False, grid=False, labelFont=FONT, titleFont=FONT,
    labelColor="#111111", titleColor="#111111", titleFontWeight="normal"
)

chart.save("out.html", embed_options={"renderer": "svg", "actions": False})
